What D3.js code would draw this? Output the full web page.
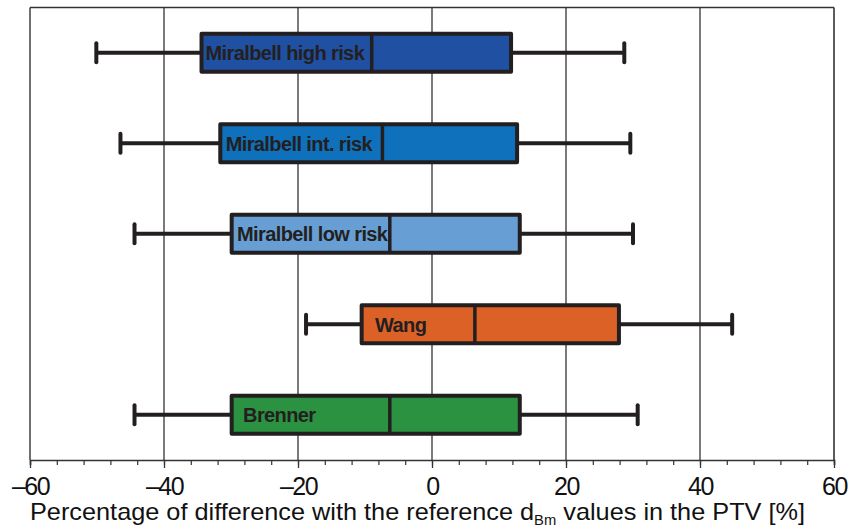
<!DOCTYPE html>
<html><head><meta charset="utf-8">
<script src="https://cdn.jsdelivr.net/npm/d3@7"></script>
<style>body{margin:0;background:#fff}svg{display:block}</style>
</head><body>
<script>
const categories = ["Miralbell high risk","Miralbell int. risk","Miralbell low risk","Wang","Brenner"];
const whiskerLow  = [-50.1,-46.5,-44.4,-18.8,-44.4];
const q1          = [-34.4,-31.6,-29.9,-10.5,-29.9];
const median      = [-9.0,-7.4,-6.3,6.4,-6.3];
const q3          = [11.8,12.7,13.1,27.9,13.1];
const whiskerHigh = [28.7,29.6,30.0,44.8,30.7];
const labelAt     = [-33.8,-30.8,-29.1,-8.5,-28.2];
const colors      = ["#2050a1","#0f70bb","#679fd5","#dc6127","#2a9240"];
const xTicks      = [-60,-40,-20,0,20,40,60];

const W=849,H=528, L=30, R=834, T=7.5, B=460;
const svg=d3.select("body").append("svg").attr("width",W).attr("height",H);
const x=d3.scaleLinear().domain([-60,60]).range([L,R]);
const y=d3.scaleBand().domain(categories).range([T,B]).padding(0);
const ink="#231f20";
const bh=y.bandwidth()*0.42;

// gridlines
svg.append("g").selectAll("line").data(xTicks.filter(t=>t>-60&&t<60)).join("line")
  .attr("x1",d=>x(d)).attr("x2",d=>x(d)).attr("y1",T).attr("y2",B)
  .attr("stroke","#333").attr("stroke-width",1.3);

// axis
const ax=svg.append("g").attr("transform",`translate(0,${B})`)
  .call(d3.axisBottom(x).tickValues(d3.range(-60,61,4)).tickSize(5).tickFormat(""));
ax.select(".domain").attr("stroke","#333").attr("stroke-width",1.5);
ax.selectAll(".tick line").attr("stroke","#333").attr("stroke-width",1.2);
const ax2=svg.append("g").attr("transform",`translate(0,${B})`)
  .call(d3.axisBottom(x).tickValues(xTicks).tickSize(8).tickPadding(9)
  .tickFormat(d=>d<0?"\u2013"+Math.abs(d):d));
ax2.select(".domain").remove();
ax2.selectAll(".tick line").attr("stroke","#333").attr("stroke-width",1.3);
ax2.selectAll(".tick text").attr("font-family","Liberation Sans, Arial, sans-serif")
  .attr("font-size",25).attr("fill","#111").attr("letter-spacing",-1.5);

// borders
svg.append("line").attr("x1",L).attr("x2",R).attr("y1",T).attr("y2",T).attr("stroke","#333").attr("stroke-width",1.6);
svg.append("line").attr("x1",L).attr("x2",L).attr("y1",T).attr("y2",B).attr("stroke","#333").attr("stroke-width",1.4);
svg.append("line").attr("x1",R).attr("x2",R).attr("y1",T).attr("y2",B).attr("stroke","#333").attr("stroke-width",1.6);

const idx=d3.range(categories.length);
const cy=i=>y(categories[i])+y.bandwidth()/2;
const g=svg.append("g");
// whiskers
g.selectAll(".wl").data(idx).join("line")
  .attr("x1",i=>x(whiskerLow[i])).attr("x2",i=>x(q1[i])).attr("y1",cy).attr("y2",cy)
  .attr("stroke",ink).attr("stroke-width",4);
g.selectAll(".wh").data(idx).join("line")
  .attr("x1",i=>x(q3[i])).attr("x2",i=>x(whiskerHigh[i])).attr("y1",cy).attr("y2",cy)
  .attr("stroke",ink).attr("stroke-width",4);
[whiskerLow,whiskerHigh].forEach(arr=>{
  g.append("g").selectAll("line").data(idx).join("line")
    .attr("x1",i=>x(arr[i])).attr("x2",i=>x(arr[i]))
    .attr("y1",i=>cy(i)-9.5).attr("y2",i=>cy(i)+9.5)
    .attr("stroke",ink).attr("stroke-width",4).attr("stroke-linecap","round");
});
// boxes
g.append("g").selectAll("rect").data(idx).join("rect")
  .attr("x",i=>x(q1[i])).attr("width",i=>x(q3[i])-x(q1[i]))
  .attr("y",i=>cy(i)-bh/2).attr("height",bh)
  .attr("fill",i=>colors[i]).attr("stroke",ink).attr("stroke-width",4)
  .attr("stroke-linejoin","round");
// labels
g.append("g").selectAll("text").data(idx).join("text")
  .attr("x",i=>x(labelAt[i])).attr("y",i=>cy(i)+7.5)
  .attr("font-family","Liberation Sans, Arial, sans-serif").attr("font-weight","bold")
  .attr("font-size",20).attr("letter-spacing",-0.6).attr("fill",ink)
  .text(i=>categories[i]);
// medians
g.append("g").selectAll("line").data(idx).join("line")
  .attr("x1",i=>x(median[i])).attr("x2",i=>x(median[i]))
  .attr("y1",i=>cy(i)-bh/2).attr("y2",i=>cy(i)+bh/2)
  .attr("stroke",ink).attr("stroke-width",3.5);

// axis title
const t=svg.append("text").attr("x",30).attr("y",520)
  .attr("font-family","Liberation Sans, Arial, sans-serif").attr("font-size",24).attr("fill","#111")
  .attr("textLength",775).attr("lengthAdjust","spacingAndGlyphs");
t.append("tspan").text("Percentage of difference with the reference d");
t.append("tspan").attr("font-size",14).attr("dy",5).text("Bm");
t.append("tspan").attr("dy",-5).text(" values in the PTV [%]");
</script>
</body></html>
